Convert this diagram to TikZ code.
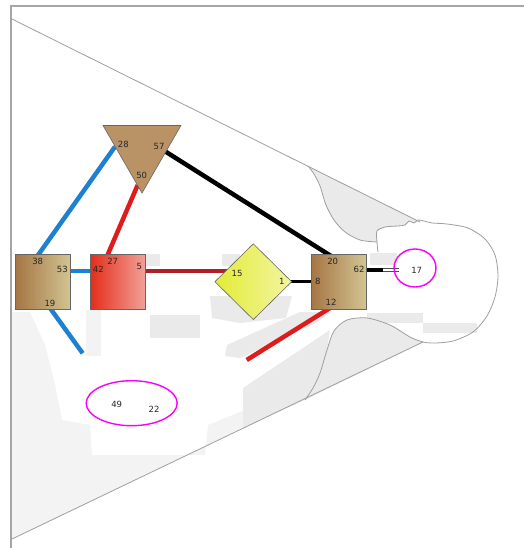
\documentclass[tikz,border=0pt]{standalone}
\usepackage{fontspec}
\setsansfont{DejaVu Sans}
\usetikzlibrary{shapes.geometric}

\definecolor{linkblue}{RGB}{30,128,210}
\definecolor{linkred}{RGB}{222,28,28}
\definecolor{linkdark}{RGB}{176,30,40}
\definecolor{brownA}{RGB}{165,118,68}
\definecolor{brownB}{RGB}{210,196,146}
\definecolor{redA}{RGB}{228,46,28}
\definecolor{redB}{RGB}{241,162,152}
\definecolor{tribrown}{RGB}{185,146,102}
\definecolor{yellowA}{RGB}{226,236,56}
\definecolor{yellowB}{RGB}{244,244,162}
\definecolor{bggray}{RGB}{234,234,234}
\definecolor{bgfaint}{RGB}{243,243,243}
\definecolor{ringpink}{RGB}{250,0,250}

\begin{document}
\begin{tikzpicture}[x=1pt,y=-1pt]

        \fill[white] (0,0) rectangle (524,548);
        \useasboundingbox (0,0) rectangle (524,548);

        % faded background
        \fill[bgfaint] (12,312) -- (30,312) -- (45,345) -- (55,385) -- (62,420)
          -- (90,425) -- (92,455) -- (205,455) -- (208,425) -- (245,410)
          -- (247,426) -- (12,539) -- cycle;
        \fill[bgfaint] (86,310) rectangle (101,356);
        \fill[bggray] (150,315) rectangle (200,338);
        \fill[bggray] (146,254) rectangle (160,266);
        \fill[bggray] (222,254) rectangle (240,266);
        \fill[bggray] (210,296) -- (292,296) -- (286,318) -- (240,323) -- (212,318) -- cycle;
        \fill[bggray] (227,345) -- (300,312) -- (330,312) -- (318,322) -- (240,358) -- (225,356) -- cycle;
        \fill[bggray] (243,388) -- (330,330) -- (327,350) -- (320,373) -- (313,388)
          -- (305,400) -- (243,428) -- cycle;
        \fill[bggray] (370,253) rectangle (397,265);
        \fill[bggray] (367,313) rectangle (423,323);
        \fill[bggray] (423,323) rectangle (477,333);
        \fill[bggray] (308,166) -- (420,222) -- (418,220) -- (414,223) -- (409,221)
          -- (405,225) -- (398,226) -- (385,227) -- (377,231) -- (377,242)
          -- plot[smooth] coordinates {(360,240) (345,232) (334,220) (326,205) (320,186) (314,174) (308,166)}
          -- cycle;
        \fill[bggray] (305,400) -- (423,342)
          -- plot[smooth] coordinates {(410,337) (390,325) (367,318) (347,320) (334,331) (327,350) (320,373) (313,388) (305,400)}
          -- cycle;

        % frame, cone and head
        \draw[gray!70,line width=1.5pt] (11,548) -- (11,6) -- (524,6);
        \begin{scope}[gray!75,line width=.8pt]
          \draw (12,19) -- (420,222);
          \draw (12,539) -- (423,342);
          \draw plot[smooth] coordinates {(308,166) (314,174) (320,186) (326,205)
            (334,220) (345,232) (360,240) (377,242)};
          \draw plot[smooth] coordinates {(378,252) (377,242) (377,231) (385,227)
            (398,226) (405,225) (409,221) (414,223) (418,220) (424,221) (432,223)
            (447,224) (468,228) (485,239) (495,255) (498,276) (495,297) (487,316)
            (473,332) (453,341) (435,343) (423,342) (410,337) (390,325) (367,318)
            (347,320) (334,331) (327,350) (320,373) (313,388) (305,400)};
        \end{scope}

        % ports
        \coordinate (c38) at (36.7,257);
        \coordinate (c28) at (115,146.7);
        \coordinate (c53) at (68,270.7);
        \coordinate (c42) at (93,270.7);
        \coordinate (c19) at (50,308);
        \coordinate (e19) at (82.7,353.3);
        \coordinate (c50) at (137.7,185);
        \coordinate (c27) at (106.7,257);
        \coordinate (c5)  at (144,270.7);
        \coordinate (c15) at (228,270.7);
        \coordinate (c57) at (165.7,151.7);
        \coordinate (c20) at (331,256);
        \coordinate (c1)  at (290,281.7);
        \coordinate (c8)  at (313,281.7);
        \coordinate (c12) at (330,308);
        \coordinate (e12) at (246.7,360);
        \coordinate (c62) at (364,270);
        \coordinate (m62) at (382.7,270);
        \coordinate (c17) at (399.3,270);

        \begin{scope}[every edge/.style={draw,line width=4.5pt}]
          \path (c38) edge[linkblue] (c28);
          \path (c53) edge[linkblue,line width=4pt] (c42);
          \path (c19) edge[linkblue] (e19);
          \path (c50) edge[linkred] (c27);
          \path (c5)  edge[linkdark,line width=4pt] (c15);
          \path (c57) edge[black] (c20);
          \path (c1)  edge[black,line width=3.5pt] (c8);
          \path (c12) edge[linkred] (e12);
          \path (c62) edge[black,line width=3.5pt] (m62);
          \path (m62) edge[black!70,line width=.6pt,double=white,double distance=2.2pt] (c17);
        \end{scope}

        \begin{scope}[every node/.style={draw=black!60,line width=.6pt,inner sep=0pt}]
          \node[minimum size=55pt,left color=brownA,right color=brownB] (left) at (43,282) {};
          \node[minimum size=55pt,left color=redA,right color=redB] (mid) at (118.2,282) {};
          \node[regular polygon,regular polygon sides=3,shape border rotate=180,
            minimum size=90pt,fill=tribrown] (top) at (142,148) {};
          \node[diamond,minimum width=77pt,minimum height=76pt,
            left color=yellowA,right color=yellowB] (gate) at (253.3,281.7) {};
          \node[minimum size=55pt,left color=brownA,right color=brownB] (right) at (338.5,282.2) {};
        \end{scope}

        \begin{scope}[every node/.style={font=\sffamily\fontsize{8.5}{10}\selectfont,
            text=black!85,inner sep=0pt}]
          \node (l38) at (37.7,261.7) {38};
          \node (l53) at (62.3,269) {53};
          \node (l19) at (50,303.3) {19};
          \node (l42) at (98.3,269.3) {42};
          \node (l27) at (112.7,261.7) {27};
          \node (l5)  at (139.3,266.7) {5};
          \node (l28) at (123.3,144.3) {28};
          \node (l57) at (159,146) {57};
          \node (l50) at (141.7,175.3) {50};
          \node (l15) at (237,273.3) {15};
          \node (l1)  at (281.7,281.7) {1};
          \node (l20) at (332.7,261.7) {20};
          \node (l62) at (359,269.3) {62};
          \node (l8)  at (317.7,281.7) {8};
          \node (l12) at (331,302.7) {12};
          \node (l17) at (416.7,270.7) {17};
          \node (l49) at (116.7,404) {49};
          \node (l22) at (154,409) {22};
        \end{scope}

        \begin{scope}[every node/.style={ellipse,draw=ringpink,line width=1.4pt,inner sep=0pt}]
          \node[minimum width=42pt,minimum height=38pt] (ring17) at (415,268) {};
          \node[minimum width=91pt,minimum height=45pt] (ring49) at (131.7,403.2) {};
        \end{scope}

      \end{tikzpicture}
\end{document}
